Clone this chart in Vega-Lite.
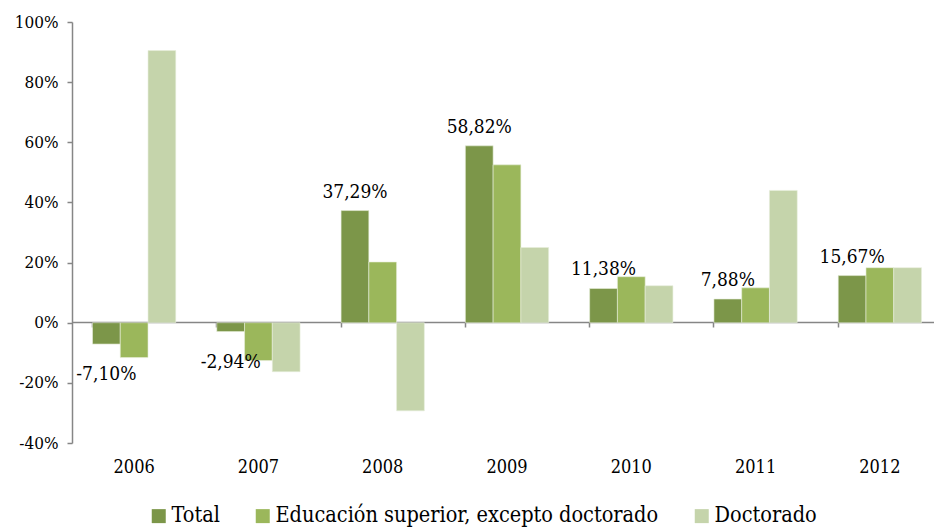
{
  "$schema": "https://vega.github.io/schema/vega-lite/v6.json",
  "width": 862,
  "height": 421,
  "autosize": "none",
  "padding": {"left": 72, "top": 22, "right": 0, "bottom": 85},
  "config": {
    "locale": {"number": {"decimal": ",", "thousands": ".", "grouping": [3], "currency": ["", " €"], "minus": "-"}},
    "view": {"stroke": null},
    "font": "DejaVu Serif Condensed"
  },
  "data": {
    "values": [
      {"year": "2006", "series": "Total", "value": -0.0710},
      {"year": "2006", "series": "Educación superior, excepto doctorado", "value": -0.116},
      {"year": "2006", "series": "Doctorado", "value": 0.905},
      {"year": "2007", "series": "Total", "value": -0.0294},
      {"year": "2007", "series": "Educación superior, excepto doctorado", "value": -0.126},
      {"year": "2007", "series": "Doctorado", "value": -0.163},
      {"year": "2008", "series": "Total", "value": 0.3729},
      {"year": "2008", "series": "Educación superior, excepto doctorado", "value": 0.202},
      {"year": "2008", "series": "Doctorado", "value": -0.293},
      {"year": "2009", "series": "Total", "value": 0.5882},
      {"year": "2009", "series": "Educación superior, excepto doctorado", "value": 0.525},
      {"year": "2009", "series": "Doctorado", "value": 0.250},
      {"year": "2010", "series": "Total", "value": 0.1138},
      {"year": "2010", "series": "Educación superior, excepto doctorado", "value": 0.153},
      {"year": "2010", "series": "Doctorado", "value": 0.123},
      {"year": "2011", "series": "Total", "value": 0.0788},
      {"year": "2011", "series": "Educación superior, excepto doctorado", "value": 0.116},
      {"year": "2011", "series": "Doctorado", "value": 0.440},
      {"year": "2012", "series": "Total", "value": 0.1567},
      {"year": "2012", "series": "Educación superior, excepto doctorado", "value": 0.183},
      {"year": "2012", "series": "Doctorado", "value": 0.183}
    ]
  },
  "encoding": {
    "x": {
      "field": "year",
      "type": "nominal",
      "title": null,
      "scale": {"range": [0, 870], "paddingInner": 0.33, "paddingOuter": 0.165},
      "axis": {
        "offset": -121,
        "domainColor": "#868686",
        "domainWidth": 1.5,
        "tickColor": "#868686",
        "tickWidth": 1.5,
        "tickSize": 5,
        "bandPosition": 0,
        "labelAngle": 0,
        "labelPadding": 131,
        "labelFontSize": 18,
        "labelColor": "#000000",
        "labelFont": "DejaVu Serif Condensed"
      }
    },
    "xOffset": {
      "field": "series",
      "type": "nominal",
      "scale": {"domain": ["Total", "Educación superior, excepto doctorado", "Doctorado"], "paddingInner": 0, "paddingOuter": 0}
    },
    "y": {
      "field": "value",
      "type": "quantitative",
      "title": null,
      "scale": {"domain": [-0.4, 1.0], "nice": false, "zero": true},
      "axis": {
        "values": [-0.4, -0.2, 0, 0.2, 0.4, 0.6, 0.8, 1.0],
        "format": ".0%",
        "grid": false,
        "domainColor": "#868686",
        "domainWidth": 1.5,
        "tickColor": "#868686",
        "tickWidth": 1.5,
        "tickSize": 5,
        "labelPadding": 9,
        "labelFontSize": 17,
        "labelColor": "#000000",
        "labelFont": "DejaVu Serif Condensed"
      }
    }
  },
  "layer": [
    {
      "mark": {"type": "bar", "stroke": "#e8eedc", "strokeWidth": 0.6},
      "encoding": {
        "color": {
          "field": "series",
          "type": "nominal",
          "scale": {
            "domain": ["Total", "Educación superior, excepto doctorado", "Doctorado"],
            "range": ["#7C9649", "#9BB75B", "#C5D4AB"]
          },
          "legend": {
            "title": null,
            "orient": "none",
            "direction": "horizontal",
            "legendX": 76,
            "legendY": 483,
            "symbolType": "square",
            "symbolSize": 196,
            "symbolStrokeWidth": 0,
            "labelFontSize": 21.5,
            "labelFont": "DejaVu Serif Condensed",
            "labelColor": "#000000",
            "labelOffset": 2,
            "columnPadding": 32,
            "labelLimit": 600
          }
        }
      }
    },
    {
      "transform": [{"filter": "datum.series == 'Total' && datum.value >= 0"}],
      "mark": {"type": "text", "baseline": "alphabetic", "dy": -13, "fontSize": 19, "font": "DejaVu Serif Condensed", "color": "#000000"},
      "encoding": {"text": {"field": "value", "type": "quantitative", "format": ".2%"}}
    },
    {
      "transform": [{"filter": "datum.series == 'Total' && datum.value < 0"}],
      "mark": {"type": "text", "baseline": "top", "dy": 21, "fontSize": 19, "font": "DejaVu Serif Condensed", "color": "#000000"},
      "encoding": {"text": {"field": "value", "type": "quantitative", "format": ".2%"}}
    }
  ]
}
